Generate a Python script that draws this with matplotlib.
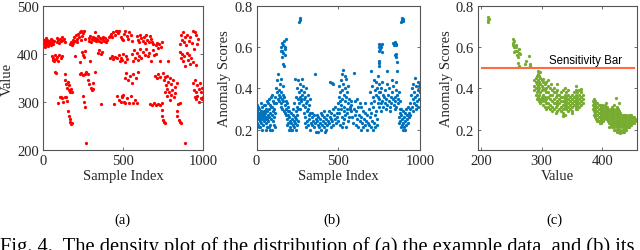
import matplotlib.pyplot as plt

# (sample index, value)
points_a = [
    (0, 418), (3, 425), (5, 430), (8, 420), (10, 415), (13, 428), (15, 422), (18, 433), (20, 418), (23, 426),
    (26, 421), (28, 430), (31, 416), (34, 424), (37, 420), (40, 428), (44, 422), (47, 432), (50, 418), (54, 426),
    (58, 430), (62, 421), (66, 427),
    (85, 433), (90, 426), (96, 430), (102, 424), (108, 432), (114, 427), (120, 435), (126, 429), (132, 431), (137, 426),
    (170, 420), (175, 425), (180, 418), (185, 430), (190, 423), (195, 436), (200, 428), (205, 440), (210, 432), (215, 425),
    (220, 442), (225, 435), (230, 445), (235, 430), (240, 447), (245, 438), (250, 444), (255, 448), (262, 432),
    (285, 428), (290, 433), (295, 438), (300, 426), (305, 431), (310, 436), (316, 429), (322, 434), (328, 446), (334, 427),
    (340, 432), (346, 437), (352, 428), (358, 433), (364, 426), (370, 431), (376, 436), (382, 428), (388, 433), (394, 426),
    (400, 430), (410, 435), (418, 438), (425, 442), (432, 436), (440, 445), (448, 440), (455, 447), (462, 448), (470, 444),
    (478, 449), (486, 436), (492, 432), (500, 430), (508, 442), (515, 447), (523, 438), (530, 432), (540, 446), (550, 440),
    (558, 428), (585, 438), (592, 430), (600, 425), (608, 440), (615, 433), (622, 428), (630, 436), (638, 422), (645, 440),
    (652, 430), (660, 426), (668, 437), (675, 432), (682, 425), (690, 420), (705, 418), (712, 422), (720, 412), (728, 420),
    (735, 415), (741, 425), (856, 420), (862, 440), (868, 430), (875, 445), (880, 425), (888, 435), (895, 418), (902, 440),
    (910, 428), (918, 436), (930, 422), (940, 448), (948, 445), (955, 440), (962, 420), (970, 432),
    (55, 395), (60, 388), (65, 392), (70, 385), (75, 397), (80, 390), (88, 394), (95, 386), (102, 398), (110, 391),
    (116, 395), (200, 396), (231, 384), (242, 405), (248, 398), (255, 394), (262, 407), (293, 386), (346, 402), (352, 408),
    (360, 400), (367, 405), (420, 392), (430, 395), (440, 390), (450, 394), (460, 391), (472, 398), (480, 385), (488, 392),
    (495, 388), (502, 400), (510, 383), (518, 396), (523, 389), (554, 400), (562, 385), (570, 408), (578, 392), (586, 402),
    (594, 388), (600, 395), (606, 410), (615, 392), (625, 405), (635, 398), (645, 410), (655, 395), (665, 403), (675, 385),
    (685, 408), (695, 397), (705, 400), (731, 385), (783, 385), (856, 405), (862, 392), (868, 400), (875, 385), (882, 395),
    (890, 375), (898, 402), (905, 388), (912, 398), (920, 380), (928, 392), (936, 383), (945, 410), (955, 377),
    (75, 363), (80, 361), (137, 358), (231, 358), (240, 360), (250, 357), (260, 358), (270, 362), (283, 358), (325, 363),
    (512, 350), (520, 360), (530, 345), (545, 355), (554, 340), (565, 358), (580, 350), (596, 362), (700, 355), (710, 350),
    (720, 358), (731, 352),
    (140, 345), (145, 338), (150, 330), (155, 342), (160, 325), (165, 335), (170, 320), (175, 328), (179, 322), (283, 345),
    (290, 338), (298, 330), (305, 325), (310, 340), (314, 328), (752, 360), (758, 345), (762, 352), (768, 335), (772, 355),
    (778, 328), (782, 342), (788, 320), (792, 350), (798, 315), (802, 338), (808, 325), (812, 345), (818, 310), (822, 332),
    (828, 318), (835, 340), (760, 320), (775, 312), (795, 305), (939, 340), (945, 325), (950, 345), (958, 320), (965, 335),
    (972, 328), (980, 340), (988, 322), (995, 330),
    (96, 299), (106, 310), (112, 310), (120, 309), (128, 300), (135, 311), (142, 310), (148, 303), (252, 313), (258, 300),
    (262, 290), (360, 296), (444, 297), (465, 313), (475, 305), (485, 300), (495, 312), (505, 300), (491, 310), (500, 315),
    (512, 298), (525, 308), (535, 298), (548, 312), (560, 298), (575, 305), (585, 298), (668, 296), (680, 293), (692, 298),
    (705, 294), (718, 297), (730, 293), (741, 298), (950, 310), (958, 306), (965, 313), (972, 300), (985, 308), (991, 306),
    (1000, 310), (845, 295), (855, 298),
    (158, 282), (162, 272), (166, 265), (170, 258), (174, 255), (179, 256), (741, 283), (745, 270), (750, 262), (756, 258),
    (762, 256), (835, 282), (840, 270), (848, 262), (855, 258), (862, 256), (266, 215), (887, 215),
]

# (sample index, anomaly score)
points_b = [
    (0, 0.25), (2, 0.29), (4, 0.23), (6, 0.27), (8, 0.31), (10, 0.26), (12, 0.22), (14, 0.28), (16, 0.25), (18, 0.30),
    (20, 0.24), (22, 0.27), (24, 0.21), (26, 0.29), (28, 0.26), (30, 0.23), (32, 0.28), (34, 0.25), (36, 0.31), (38, 0.27),
    (40, 0.22), (42, 0.26), (44, 0.29), (46, 0.24), (48, 0.27), (50, 0.32), (52, 0.25), (54, 0.28), (56, 0.23), (58, 0.30),
    (60, 0.26), (62, 0.21), (64, 0.29), (66, 0.25), (68, 0.33), (70, 0.27), (72, 0.24), (74, 0.30), (76, 0.35), (78, 0.26),
    (80, 0.32), (82, 0.22), (84, 0.28), (86, 0.36), (88, 0.25), (90, 0.31), (92, 0.20), (94, 0.27), (96, 0.37), (98, 0.24),
    (100, 0.29), (102, 0.34), (104, 0.22), (106, 0.30), (108, 0.26), (110, 0.33), (112, 0.21), (114, 0.28),
    (5, 0.32), (15, 0.21), (25, 0.33), (35, 0.20), (45, 0.32), (55, 0.20), (65, 0.34), (75, 0.21), (85, 0.20), (95, 0.31),
    (116, 0.36), (120, 0.33), (122, 0.40), (125, 0.38), (128, 0.44), (130, 0.35), (133, 0.47), (136, 0.39), (138, 0.34),
    (140, 0.37), (142, 0.42), (145, 0.36), (147, 0.31), (150, 0.38), (152, 0.33), (155, 0.35), (157, 0.30), (160, 0.37),
    (162, 0.41), (165, 0.34), (168, 0.29), (170, 0.36), (172, 0.32), (175, 0.28), (178, 0.34), (180, 0.30), (183, 0.27),
    (186, 0.33), (190, 0.29), (194, 0.31),
    (148, 0.445), (152, 0.60), (155, 0.62), (157, 0.58), (160, 0.61), (162, 0.57), (164, 0.52), (166, 0.51), (170, 0.63),
    (172, 0.60), (175, 0.59), (177, 0.56), (180, 0.64), (150, 0.58), (158, 0.55),
    (185, 0.25), (188, 0.22), (192, 0.27), (195, 0.23), (198, 0.20), (200, 0.26), (203, 0.24), (206, 0.21), (209, 0.28),
    (212, 0.23), (215, 0.25), (218, 0.20), (221, 0.27), (224, 0.22), (227, 0.24), (230, 0.21), (233, 0.26), (236, 0.23),
    (239, 0.29), (242, 0.25), (245, 0.22), (248, 0.27), (251, 0.24), (254, 0.30), (196, 0.29), (210, 0.20), (226, 0.30),
    (240, 0.20),
    (230, 0.33), (235, 0.445), (240, 0.36), (245, 0.31), (248, 0.40), (252, 0.35), (255, 0.44), (258, 0.38), (260, 0.33),
    (263, 0.36), (266, 0.42), (268, 0.30), (270, 0.35), (272, 0.39), (275, 0.34), (278, 0.445), (280, 0.37), (283, 0.32),
    (286, 0.41), (289, 0.35), (292, 0.38), (295, 0.31), (298, 0.36), (301, 0.33), (304, 0.40), (308, 0.34), (312, 0.30),
    (316, 0.37), (320, 0.32), (325, 0.35), (262, 0.72), (263, 0.74), (265, 0.73),
    (290, 0.28), (294, 0.23), (298, 0.26), (302, 0.21), (306, 0.29), (310, 0.24), (314, 0.22), (318, 0.27), (322, 0.25),
    (326, 0.20), (330, 0.28), (334, 0.23), (338, 0.26), (342, 0.22), (346, 0.24), (350, 0.21), (354, 0.27), (358, 0.23),
    (362, 0.25), (366, 0.19), (370, 0.24), (374, 0.22), (378, 0.26), (382, 0.21), (386, 0.25), (390, 0.23), (394, 0.20),
    (398, 0.27), (402, 0.22), (406, 0.24), (410, 0.21), (414, 0.26), (418, 0.23), (422, 0.25), (426, 0.20), (430, 0.27),
    (434, 0.22), (438, 0.24), (442, 0.29), (446, 0.23), (450, 0.26), (454, 0.21), (458, 0.28), (462, 0.24), (466, 0.30),
    (470, 0.22), (474, 0.27), (478, 0.25), (482, 0.31), (486, 0.23), (490, 0.28), (494, 0.26), (498, 0.33), (358, 0.47),
    (340, 0.28), (375, 0.19), (395, 0.28), (420, 0.19), (455, 0.25), (415, 0.29), (368, 0.27),
    (450, 0.43), (460, 0.425), (465, 0.42),
    (500, 0.30), (503, 0.36), (506, 0.41), (509, 0.34), (512, 0.38), (515, 0.44), (518, 0.32), (521, 0.39), (524, 0.35),
    (527, 0.42), (530, 0.49), (533, 0.37), (536, 0.31), (539, 0.40), (542, 0.34), (545, 0.445), (548, 0.36), (551, 0.30),
    (554, 0.38), (557, 0.33), (560, 0.41), (565, 0.35), (570, 0.31), (575, 0.34), (580, 0.29), (520, 0.47), (540, 0.46),
    (496, 0.24), (502, 0.28), (508, 0.22), (514, 0.30), (520, 0.26), (526, 0.23), (532, 0.29), (538, 0.25), (544, 0.27),
    (550, 0.21), (556, 0.28), (562, 0.24), (568, 0.26), (574, 0.30), (523, 0.21),
    (580, 0.32), (585, 0.26), (590, 0.23), (595, 0.30), (600, 0.27), (603, 0.34), (606, 0.22), (610, 0.29), (614, 0.25),
    (618, 0.31), (622, 0.21), (626, 0.27), (630, 0.24), (634, 0.33), (638, 0.20), (642, 0.26), (646, 0.23), (650, 0.29),
    (654, 0.21), (658, 0.25), (662, 0.22), (666, 0.28), (670, 0.24), (674, 0.20), (678, 0.27), (682, 0.23), (686, 0.30),
    (690, 0.22), (694, 0.26), (698, 0.21), (702, 0.28), (706, 0.24), (710, 0.20), (714, 0.31), (718, 0.23), (722, 0.27),
    (726, 0.21), (730, 0.29), (734, 0.25), (738, 0.22), (612, 0.35), (640, 0.31), (665, 0.33), (700, 0.33), (720, 0.34),
    (595, 0.477),
    (697, 0.38), (703, 0.485), (708, 0.41), (712, 0.36), (718, 0.44), (722, 0.39), (728, 0.43), (732, 0.37), (738, 0.40),
    (742, 0.46), (748, 0.42), (752, 0.38),
    (748, 0.60), (750, 0.58), (752, 0.615), (755, 0.59), (758, 0.61), (762, 0.60), (765, 0.575), (770, 0.615), (748, 0.535),
    (750, 0.51), (752, 0.525),
    (740, 0.33), (744, 0.36), (748, 0.31), (752, 0.35), (756, 0.38), (760, 0.33), (764, 0.40), (768, 0.34), (772, 0.37),
    (776, 0.31), (780, 0.36), (784, 0.39), (788, 0.33), (792, 0.35), (796, 0.42), (800, 0.32), (804, 0.37), (808, 0.34),
    (812, 0.40), (816, 0.31), (820, 0.36), (824, 0.33), (828, 0.38), (832, 0.35), (836, 0.41), (840, 0.32), (844, 0.36),
    (848, 0.34), (852, 0.39), (856, 0.31), (860, 0.37), (864, 0.35), (868, 0.33), (872, 0.38), (876, 0.30), (880, 0.34),
    (760, 0.29), (790, 0.30), (815, 0.29), (845, 0.30), (770, 0.43), (830, 0.44), (855, 0.43), (800, 0.485), (858, 0.485),
    (835, 0.62), (840, 0.61), (845, 0.625), (852, 0.61), (855, 0.615), (848, 0.56), (852, 0.55), (855, 0.565), (858, 0.53),
    (886, 0.72), (888, 0.74), (890, 0.73), (893, 0.725), (895, 0.735),
    (870, 0.26), (873, 0.23), (876, 0.28), (879, 0.24), (882, 0.21), (885, 0.27), (888, 0.22), (891, 0.25), (894, 0.29),
    (897, 0.23), (900, 0.26), (903, 0.21), (906, 0.28), (909, 0.24), (912, 0.30), (915, 0.22), (918, 0.27), (921, 0.25),
    (924, 0.31), (927, 0.23), (930, 0.28), (933, 0.26), (936, 0.30), (939, 0.27), (884, 0.30), (896, 0.20), (910, 0.20),
    (940, 0.33), (944, 0.37), (948, 0.31), (952, 0.40), (955, 0.35), (958, 0.42), (961, 0.33), (964, 0.38), (967, 0.45),
    (970, 0.36), (973, 0.32), (976, 0.41), (979, 0.37), (982, 0.34), (985, 0.43), (988, 0.39), (991, 0.35), (994, 0.41),
    (997, 0.38), (1000, 0.42), (960, 0.29), (975, 0.30), (990, 0.31),
]

# (value, anomaly score)
points_c = [
    (212, 0.72), (212, 0.73), (212, 0.745), (213, 0.735),
    (252, 0.64), (253, 0.62), (254, 0.60), (255, 0.63), (256, 0.58), (254, 0.575), (252, 0.61),
    (257, 0.60), (259, 0.58), (260, 0.56), (262, 0.59), (263, 0.57), (258, 0.61), (261, 0.55), (264, 0.565),
    (261, 0.525), (272, 0.52), (275, 0.535), (279, 0.555), (280, 0.51), (281, 0.52), (263, 0.51),
    (288, 0.44), (288, 0.41), (288, 0.39),
    (290, 0.45), (290, 0.43), (290, 0.40), (290, 0.37),
    (292, 0.46), (292, 0.42), (292, 0.38), (292, 0.35),
    (294, 0.485), (294, 0.47), (294, 0.44), (294, 0.41), (294, 0.39), (294, 0.36),
    (296, 0.46), (296, 0.43), (296, 0.40), (296, 0.37), (296, 0.34),
    (298, 0.48), (298, 0.45), (298, 0.42), (298, 0.38), (298, 0.35), (298, 0.33),
    (300, 0.44), (300, 0.41), (300, 0.39), (300, 0.36), (300, 0.34),
    (302, 0.43), (302, 0.40), (302, 0.37), (302, 0.35), (302, 0.32),
    (305, 0.42), (305, 0.39), (305, 0.36), (305, 0.34), (305, 0.31),
    (308, 0.43), (308, 0.40), (308, 0.38), (308, 0.35), (308, 0.33), (308, 0.30),
    (311, 0.41), (311, 0.38), (311, 0.36), (311, 0.33), (311, 0.31),
    (314, 0.40), (314, 0.37), (314, 0.35), (314, 0.32), (314, 0.30),
    (317, 0.39), (317, 0.37), (317, 0.34), (317, 0.31), (317, 0.29),
    (320, 0.40), (320, 0.38), (320, 0.35), (320, 0.33), (320, 0.30),
    (323, 0.38), (323, 0.36), (323, 0.33), (323, 0.31), (323, 0.28),
    (326, 0.39), (326, 0.37), (326, 0.34), (326, 0.32), (326, 0.29),
    (329, 0.37), (329, 0.35), (329, 0.33), (329, 0.30),
    (332, 0.38), (332, 0.36), (332, 0.34), (332, 0.31), (332, 0.29),
    (335, 0.36), (335, 0.34), (335, 0.32), (335, 0.30), (335, 0.28),
    (338, 0.40), (338, 0.37), (338, 0.35), (338, 0.33), (338, 0.31), (338, 0.27),
    (341, 0.38), (341, 0.36), (341, 0.34), (341, 0.32), (341, 0.30),
    (344, 0.39), (344, 0.37), (344, 0.35), (344, 0.33), (344, 0.31), (344, 0.29),
    (347, 0.36), (347, 0.34), (347, 0.32), (347, 0.30),
    (350, 0.37), (350, 0.35), (350, 0.33), (350, 0.31), (350, 0.29),
    (353, 0.38), (353, 0.36), (353, 0.34), (353, 0.32),
    (356, 0.39), (356, 0.37), (356, 0.35), (356, 0.33), (356, 0.31), (356, 0.30),
    (359, 0.38), (359, 0.36), (359, 0.34), (359, 0.32), (359, 0.30),
    (362, 0.39), (362, 0.37), (362, 0.35), (362, 0.33), (362, 0.31),
    (365, 0.38), (365, 0.36), (365, 0.34), (365, 0.32),
    (368, 0.37), (368, 0.35), (368, 0.33),
    (302, 0.445), (310, 0.44), (316, 0.42), (325, 0.42), (335, 0.39), (356, 0.41), (365, 0.395), (350, 0.28), (335, 0.265),
    (384, 0.34), (384, 0.32), (384, 0.30),
    (386, 0.35), (386, 0.33), (386, 0.31), (386, 0.29), (386, 0.27),
    (388, 0.34), (388, 0.32), (388, 0.30), (388, 0.28), (388, 0.26),
    (390, 0.33), (390, 0.31), (390, 0.29), (390, 0.27), (390, 0.25),
    (392, 0.33), (392, 0.31), (392, 0.29), (392, 0.27), (392, 0.25), (392, 0.24),
    (394, 0.32), (394, 0.30), (394, 0.28), (394, 0.26), (394, 0.24),
    (396, 0.32), (396, 0.30), (396, 0.28), (396, 0.26), (396, 0.24), (396, 0.23),
    (398, 0.31), (398, 0.29), (398, 0.27), (398, 0.25), (398, 0.23),
    (400, 0.32), (400, 0.30), (400, 0.28), (400, 0.26), (400, 0.24),
    (402, 0.31), (402, 0.29), (402, 0.27), (402, 0.25), (402, 0.24),
    (404, 0.32), (404, 0.30), (404, 0.28), (404, 0.26),
    (406, 0.33), (406, 0.31), (406, 0.29), (406, 0.27), (406, 0.25),
    (408, 0.31), (408, 0.29), (408, 0.27), (408, 0.25),
    (410, 0.30), (410, 0.28), (410, 0.26), (410, 0.24),
    (412, 0.29), (412, 0.27), (412, 0.25), (412, 0.23), (412, 0.21),
    (414, 0.30), (414, 0.28), (414, 0.26), (414, 0.24), (414, 0.22),
    (416, 0.31), (416, 0.29), (416, 0.27), (416, 0.25), (416, 0.23), (416, 0.21),
    (418, 0.30), (418, 0.28), (418, 0.26), (418, 0.24), (418, 0.22),
    (420, 0.32), (420, 0.29), (420, 0.27), (420, 0.25), (420, 0.23), (420, 0.21), (420, 0.20),
    (422, 0.355), (422, 0.30), (422, 0.28), (422, 0.26), (422, 0.24), (422, 0.22), (422, 0.20),
    (424, 0.31), (424, 0.29), (424, 0.27), (424, 0.25), (424, 0.23), (424, 0.21), (424, 0.19),
    (426, 0.30), (426, 0.28), (426, 0.26), (426, 0.24), (426, 0.22), (426, 0.20), (426, 0.19),
    (428, 0.33), (428, 0.29), (428, 0.27), (428, 0.25), (428, 0.23), (428, 0.21), (428, 0.19),
    (430, 0.28), (430, 0.26), (430, 0.24), (430, 0.22), (430, 0.20), (430, 0.185),
    (432, 0.27), (432, 0.25), (432, 0.23), (432, 0.21), (432, 0.19),
    (434, 0.26), (434, 0.24), (434, 0.22), (434, 0.20), (434, 0.19),
    (436, 0.27), (436, 0.25), (436, 0.23), (436, 0.21), (436, 0.19),
    (438, 0.26), (438, 0.24), (438, 0.22), (438, 0.20),
    (440, 0.27), (440, 0.25), (440, 0.23), (440, 0.21), (440, 0.20),
    (442, 0.26), (442, 0.24), (442, 0.22), (442, 0.21),
    (444, 0.27), (444, 0.25), (444, 0.23), (444, 0.21),
    (446, 0.26), (446, 0.24), (446, 0.22),
    (448, 0.27), (448, 0.25), (448, 0.23), (448, 0.22),
    (450, 0.26), (450, 0.24), (450, 0.23),
    (452, 0.26), (452, 0.25), (452, 0.23),
    (454, 0.25), (454, 0.24),
]

sensitivity = 0.5
bar_range = [201, 452]

index_ticks = [0, 500, 1000]
value_ticks = [200, 300, 400, 500]
score_ticks = [0.2, 0.4, 0.6, 0.8]
value_x_ticks = [200, 300, 400]

plt.rcParams['font.family'] = 'Liberation Serif'
plt.rcParams['font.size'] = 10.5

fig = plt.figure(figsize=(6.4, 2.51), dpi=100)
ax_a = fig.add_axes([0.0672, 0.398, 0.250, 0.574])
ax_b = fig.add_axes([0.4008, 0.398, 0.2555, 0.574])
ax_c = fig.add_axes([0.7469, 0.398, 0.248, 0.574])

ms = 5.5

xa, ya = zip(*points_a)
ax_a.scatter(xa, ya, s=ms, c='#ff0000', linewidths=0)
ax_a.set_xlim(0, 1000)
ax_a.set_ylim(200, 500)
ax_a.set_xticks(index_ticks)
ax_a.set_yticks(value_ticks)
ax_a.set_xlabel('Sample Index', labelpad=1)
ax_a.set_ylabel('Value', labelpad=2)

xb, yb = zip(*points_b)
ax_b.scatter(xb, yb, s=ms, c='#0072bd', linewidths=0)
ax_b.set_xlim(0, 1000)
ax_b.set_ylim(0.1, 0.8)
ax_b.set_xticks(index_ticks)
ax_b.set_yticks(score_ticks)
ax_b.set_xlabel('Sample Index', labelpad=1)
ax_b.set_ylabel('Anomaly Scores', labelpad=2)

xc, yc = zip(*points_c)
ax_c.scatter(xc, yc, s=ms, c='#77ac30', linewidths=0)
ax_c.plot(bar_range, [sensitivity, sensitivity], color='#ff6a40', lw=1.5)
ax_c.text(372, 0.538, 'Sensitivity Bar', family='Liberation Sans', fontsize=8.3,
          ha='center', va='center', color='black')
ax_c.set_xlim(195, 457)
ax_c.set_ylim(0.1, 0.8)
ax_c.set_xticks(value_x_ticks)
ax_c.set_yticks(score_ticks)
ax_c.set_xlabel('Value', labelpad=1)
ax_c.set_ylabel('Anomaly Scores', labelpad=2)

for ax in (ax_a, ax_b, ax_c):
    for sp in ax.spines.values():
        sp.set_color('#555555')
        sp.set_linewidth(0.8)
    ax.tick_params(direction='in', length=2.5, width=0.6, top=True, right=True,
                   colors='#555555', labelcolor='#262626', pad=3)
    ax.xaxis.label.set_color('#262626')
    ax.yaxis.label.set_color('#262626')

fig.text(0.191, 0.124, '(a)', ha='center', va='center', fontsize=10.5)
fig.text(0.519, 0.124, '(b)', ha='center', va='center', fontsize=10.5)
fig.text(0.867, 0.124, '(c)', ha='center', va='center', fontsize=10.5)
# caption runs off the bottom edge, as in the cropped original
fig.text(0.0, 0.056, 'Fig. 4.  The density plot of the distribution of (a) the example data, and (b) its',
         ha='left', va='top', fontsize=14.8)

fig.savefig('out.png', dpi=100)
